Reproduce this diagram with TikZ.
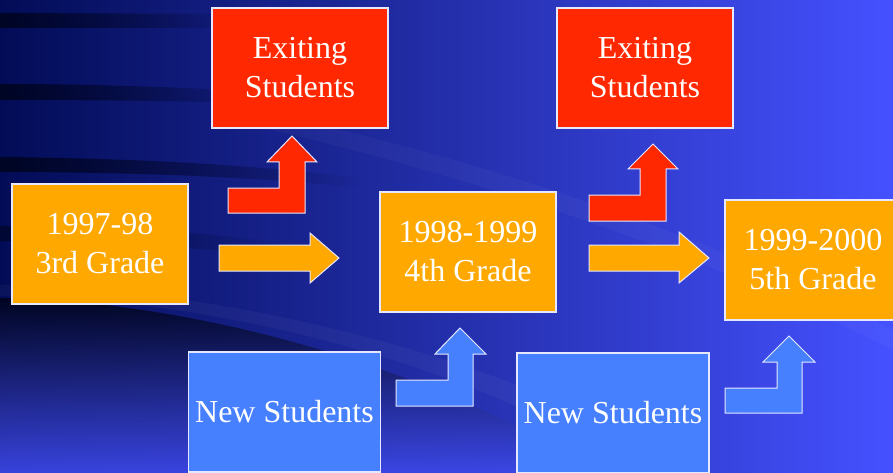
\documentclass[tikz,border=0pt]{standalone}
\usepackage{fontspec}
\setmainfont{Liberation Serif}
\usetikzlibrary{fadings}
\definecolor{bgL}{HTML}{020C56}
\definecolor{bgM}{HTML}{2C36BC}
\definecolor{bgR}{HTML}{4551FF}
\definecolor{streakc}{HTML}{00041C}
\definecolor{exitred}{HTML}{FF2800}
\definecolor{gradeorange}{HTML}{FFA800}
\definecolor{newblue}{HTML}{4680FF}
\definecolor{edge}{HTML}{E6E8FF}
\tikzset{
  box/.style={draw=edge, line width=1.1pt, inner sep=0pt, text=white, align=center,
    font=\fontsize{32}{39}\selectfont},
  exitbox/.style={box, fill=exitred, minimum width=176pt, minimum height=120pt},
  gradebox/.style={box, fill=gradeorange, minimum width=176pt, minimum height=120pt},
  newbox/.style={box, fill=newblue, minimum width=192pt, minimum height=120pt},
  blockarrow/.style={draw=edge, line width=1pt, line join=miter},
  streak/.style={fill=streakc, path fading=east, opacity=0.85}
}
\begin{document}
\begin{tikzpicture}[x=1pt,y=-1pt]
\useasboundingbox (0,0) rectangle (893,473);
\begin{scope}
\clip (0,0) rectangle (893,473);
% background
\shade[left color=bgL, middle color=bgM, right color=bgR] (0,0) rectangle (893,473);
% dark swoosh at bottom left
\shade[top color=streakc, bottom color=bgR!70!bgM, opacity=0.9]
  (0,298) .. controls (180,300) and (420,360) .. (600,473) -- (0,473) -- cycle;
% lighter swoosh bands
\fill[white, opacity=0.035]
  (0,285) .. controls (200,285) and (500,350) .. (700,473) -- (640,473)
  .. controls (470,360) and (200,296) .. (0,296) -- cycle;
\fill[white, opacity=0.03]
  (250,110) .. controls (450,150) and (700,230) .. (893,330) -- (893,350)
  .. controls (700,250) and (450,170) .. (250,125) -- cycle;
% streaks
\fill[streak] (0,13) -- (240,14) -- (240,28) -- (0,28) -- cycle;
\fill[streak] (0,84) .. controls (100,84) and (200,88) .. (260,92) -- (260,104)
  .. controls (200,101) and (100,100) .. (0,100) -- cycle;
\fill[streak] (0,157) .. controls (120,158) and (250,164) .. (360,178) -- (360,188)
  .. controls (250,176) and (120,172) .. (0,172) -- cycle;
\fill[streak, opacity=0.6] (0,226) .. controls (100,226) and (200,232) .. (280,242) -- (280,256)
  .. controls (200,248) and (100,242) .. (0,241) -- cycle;
% boxes
\node[exitbox] (ex1) at (300,68) {Exiting\\Students};
\node[exitbox] (ex2) at (645,68) {Exiting\\Students};
\node[gradebox] (g3) at (100,244) {1997-98\\3rd Grade};
\node[gradebox] (g4) at (468,252) {1998-1999\\4th Grade};
\node[gradebox] (g5) at (813,260) {1999-2000\\5th Grade};
\node[newbox] (ns1) at (284.5,412) {New Students};
\node[newbox] (ns2) at (613,413) {New Students};
% red bent arrows (to exiting)
\draw[blockarrow, fill=exitred] (228,213) -- (305,213) -- (305,162) -- (317,162) -- (292,136)
  -- (267,162) -- (279,162) -- (279,188) -- (228,188) -- cycle;
\draw[blockarrow, fill=exitred] (589,221) -- (666,221) -- (666,169) -- (678,169) -- (653,144)
  -- (628,169) -- (640,169) -- (640,195) -- (589,195) -- cycle;
% orange straight arrows
\draw[blockarrow, fill=gradeorange] (219,245) -- (310,245) -- (310,233) -- (339,258)
  -- (310,283) -- (310,271) -- (219,271) -- cycle;
\draw[blockarrow, fill=gradeorange] (589,245) -- (679,245) -- (679,232) -- (709,258)
  -- (679,283) -- (679,271) -- (589,271) -- cycle;
% blue bent arrows (new students)
\draw[blockarrow, fill=newblue] (396,406) -- (473,406) -- (473,354) -- (486,354) -- (460,328)
  -- (435,354) -- (448,354) -- (448,380) -- (396,380) -- cycle;
\draw[blockarrow, fill=newblue] (725,413) -- (802,413) -- (802,362) -- (815,362) -- (789,336)
  -- (763,362) -- (777,362) -- (777,388) -- (725,388) -- cycle;
\end{scope}
\end{tikzpicture}
\end{document}
